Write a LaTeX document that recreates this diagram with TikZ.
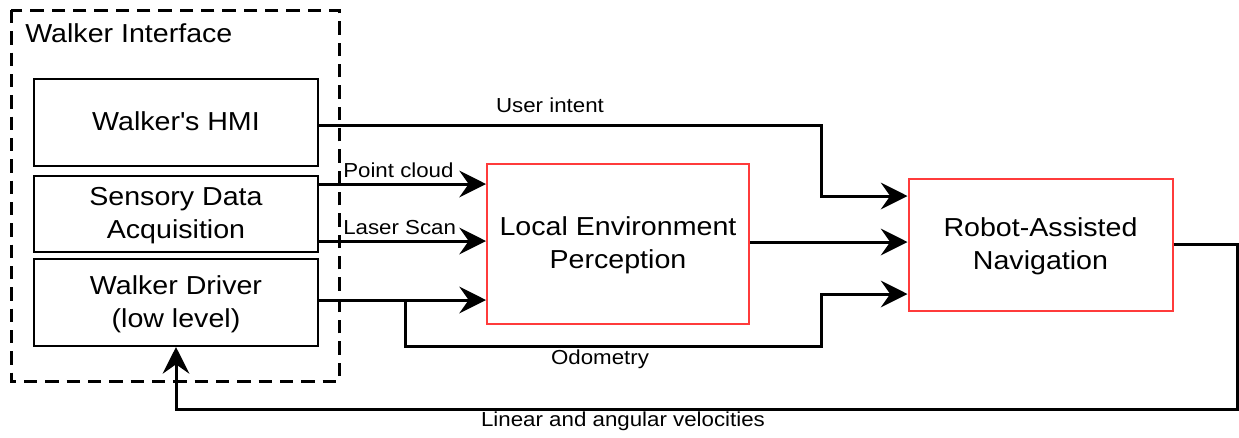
\documentclass[tikz,border=0pt]{standalone}
\usepackage{fontspec}
\setmainfont{Liberation Sans}[FakeStretch=1.1]
\usetikzlibrary{arrows.meta}
\definecolor{boxred}{HTML}{FF3B3B}
\tikzset{
  big/.style={font=\fontsize{19.5pt}{24.75pt}\selectfont},
  blk/.style={big, draw=black, line width=1.5pt, minimum width=213pt, align=center, inner sep=0pt, text depth=1.5pt},
  redbox/.style={big, draw=boxred, line width=1.5pt, align=center, inner sep=0pt, text depth=1.5pt},
  arr/.style={line width=2.25pt, -{Stealth[length=20pt, width=20pt, inset=7pt]}},
  ln/.style={line width=2.25pt},
  lbl/.style={font=\fontsize{15.2pt}{18pt}\selectfont, inner sep=0pt},
}
\begin{document}
\begin{tikzpicture}[x=0.75pt,y=-0.75pt]
\useasboundingbox (0,0) rectangle (1239,437);
% dashed group
\draw[line width=2.25pt, dash pattern=on 10pt off 6pt] (11,10) rectangle (339,381);
\node[big, anchor=west, inner sep=0pt] (wi) at (25,33) {Walker Interface};
% boxes
\node[blk, minimum height=65.25pt] (hmi) at (176,122.5) {Walker\textquotesingle s HMI};
\node[blk, minimum height=57pt] (sens) at (176,213.5) {Sensory Data\\Acquisition};
\node[blk, minimum height=65.25pt] (drv) at (176,302.5) {Walker Driver\\(low level)};
\node[redbox, minimum width=196.5pt, minimum height=120pt] (lep) at (618,244) {Local Environment\\Perception};
\node[redbox, minimum width=198pt, minimum height=99pt] (ran) at (1040.5,245) {Robot-Assisted\\Navigation};
% connectors
\draw[arr] (hmi.east |- 0,125) -| (821,196) -- (ran.west |- 0,196);
\node[lbl] (ui) at (550,105) {User intent};
\draw[arr] (sens.east |- 0,184) -- (lep.west |- 0,184);
\node[lbl, anchor=south west] (pc) at (343,178) {Point cloud};
\draw[arr] ([xshift=-1.5pt]sens.east |- 0,241) -- (lep.west |- 0,241);
\node[lbl, anchor=south west] (ls) at (343,235) {Laser Scan};
\draw[arr] (drv.east |- 0,300) -- (lep.west |- 0,300);
\coordinate (br) at (405,300);
\draw[arr] (br) |- (821,346) |- (ran.west |- 0,294);
\node[lbl] (od) at (600,359) {Odometry};
\draw[arr] (lep.east |- 0,242) -- (ran.west |- 0,242);
\draw[arr] (ran.east |- 0,244) -- (1237,244) |- (176,409) -- (drv.south);
\node[lbl] (vel) at (623,421) {Linear and angular velocities};
\end{tikzpicture}
\end{document}
